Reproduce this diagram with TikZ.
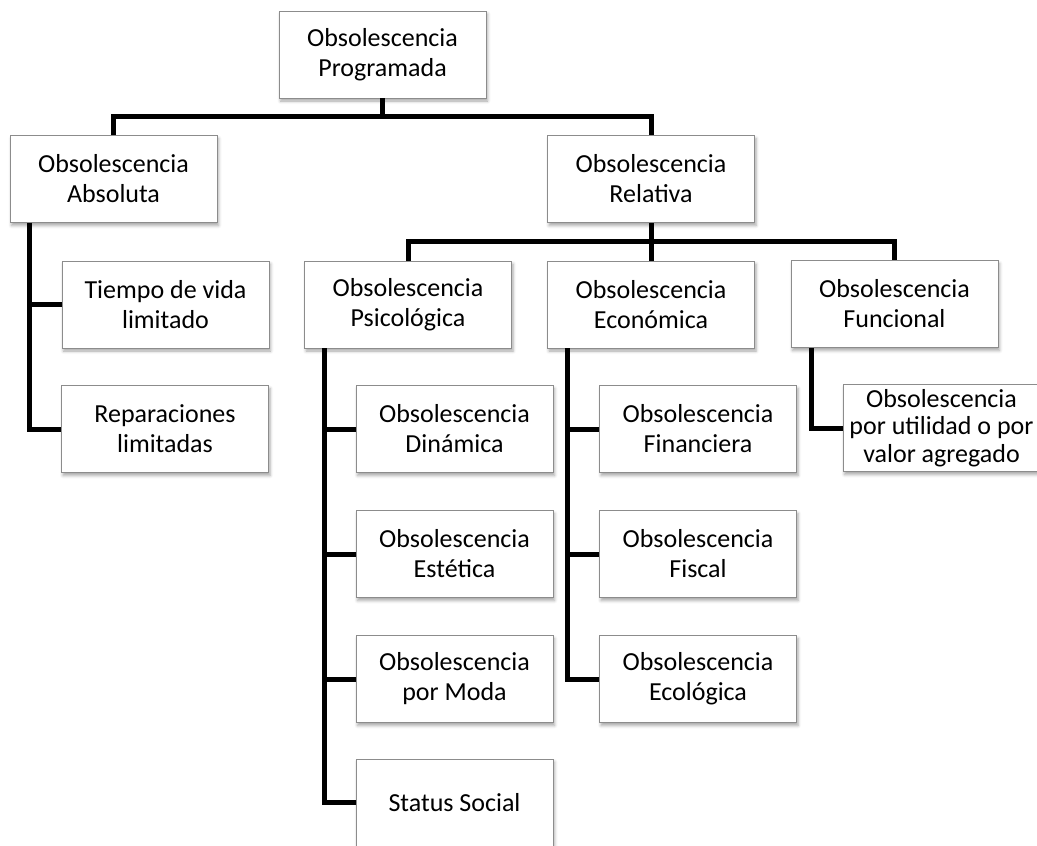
\documentclass[tikz,border=0pt]{standalone}
\usepackage{fontspec}
\setmainfont{Carlito}
\usetikzlibrary{shadows.blur}

\tikzset{
  box/.style={rectangle, draw=black!45, line width=0.9pt, fill=white,
    minimum height=87pt, inner sep=0pt, align=center,
    font=\fontsize{26}{30}\selectfont,
    blur shadow={shadow xshift=1.5pt, shadow yshift=-3pt,
      shadow blur radius=3pt, shadow opacity=35}},
  wide/.style={box, minimum width=207pt},
  narrow/.style={box, minimum width=197pt},
  link/.style={line width=5pt, black}
}

\begin{document}
\begin{tikzpicture}[x=1pt, y=-1pt]
\useasboundingbox (0,0) rectangle (1037,846);

% root and first level
\node[wide] (root) at (382.5,54.5) {Obsolescencia\\Programada};
\node[wide] (abs)  at (113.5,179)  {Obsolescencia\\Absoluta};
\node[wide] (rel)  at (651,179)    {Obsolescencia\\Relativa};

% children of Absoluta
\node[wide] (tiempo) at (165.5,304.5) {Tiempo de vida\\limitado};
\node[wide] (rep)    at (165,429)     {Reparaciones\\limitadas};

% children of Relativa
\node[wide] (psic) at (408,304.5) {Obsolescencia\\Psicológica};
\node[wide] (econ) at (651,304.5) {Obsolescencia\\Económica};
\node[wide] (func) at (894.5,304) {Obsolescencia\\Funcional};

% psychological branch
\node[narrow] (din)    at (454.5,429)   {Obsolescencia\\Dinámica};
\node[narrow] (est)    at (454.5,554)   {Obsolescencia\\Estética};
\node[narrow] (moda)   at (454.5,679)   {Obsolescencia\\por Moda};
\node[narrow] (status) at (454.5,802.5) {Status Social};

% economic branch
\node[narrow] (fin)  at (698,429) {Obsolescencia\\Financiera};
\node[narrow] (fisc) at (698,554) {Obsolescencia\\Fiscal};
\node[narrow] (eco)  at (698,679) {Obsolescencia\\Ecológica};

% functional branch
\node[narrow, font=\fontsize{26}{27.5}\selectfont] (util) at (941.5,428)
  {Obsolescencia\\por utilidad o por\\valor agregado};

% bus coordinates
\coordinate (bus1) at ([yshift=-18]root.south);
\coordinate (bus2) at ([yshift=-19]rel.south);

% connectors
\draw[link] (root.south) -- (bus1);
\draw[link] (abs.north) |- (bus1) -| (rel.north);

\draw[link] (rel.south) -- (bus2);
\draw[link] (psic.north) |- (bus2) -| (func.north);
\draw[link] (bus2) -- (econ.north);

\draw[link] ([xshift=20]abs.south west) |- (rep.west);
\draw[link] ([xshift=20]abs.south west) |- (tiempo.west);

\draw[link] ([xshift=20]psic.south west) |- (status.west);
\draw[link] ([xshift=20]psic.south west) |- (din.west);
\draw[link] ([xshift=20]psic.south west) |- (est.west);
\draw[link] ([xshift=20]psic.south west) |- (moda.west);

\draw[link] ([xshift=20]econ.south west) |- (eco.west);
\draw[link] ([xshift=20]econ.south west) |- (fin.west);
\draw[link] ([xshift=20]econ.south west) |- (fisc.west);

\draw[link] ([xshift=21]func.south west) |- (util.west);
\end{tikzpicture}
\end{document}
